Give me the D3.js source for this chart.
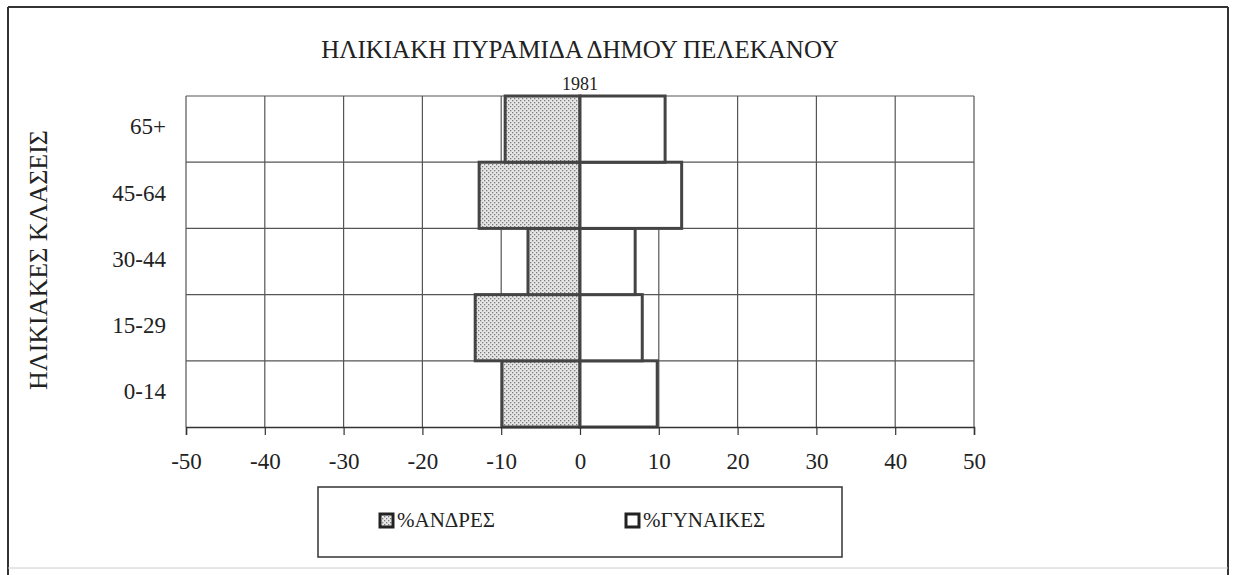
<!DOCTYPE html>
<html>
<head>
<meta charset="utf-8">
<script src="https://cdn.jsdelivr.net/npm/d3@7"></script>
<style>
    body { margin: 0; background: #fff; }
    svg text { font-family: "Liberation Serif", "DejaVu Serif", serif; fill: #222; }
</style>
</head>
<body>
<svg id="chart" width="1236" height="575"></svg>
<script>
// age classes, bottom to top
let ageGroups = ['0-14', '15-29', '30-44', '45-64', '65+']
// men drawn to the left (negative), women to the right
let men = [-9.9, -13.3, -6.6, -12.8, -9.5]
let women = [9.8, 7.9, 7.0, 12.9, 10.8]
let xTicks = [-50, -40, -30, -20, -10, 0, 10, 20, 30, 40, 50]

let svg = d3.select('#chart')

// outer frame
svg.append('line').attr('x1', 8).attr('y1', 7).attr('x2', 1228).attr('y2', 7)
    .attr('stroke', '#333').attr('stroke-width', 2)
svg.append('line').attr('x1', 8).attr('y1', 7).attr('x2', 8).attr('y2', 575)
    .attr('stroke', '#333').attr('stroke-width', 2)
svg.append('line').attr('x1', 1228).attr('y1', 7).attr('x2', 1228).attr('y2', 575)
    .attr('stroke', '#333').attr('stroke-width', 2)
svg.append('line').attr('x1', 8).attr('y1', 568).attr('x2', 1228).attr('y2', 568)
    .attr('stroke', '#ccc').attr('stroke-width', 1)

let defs = svg.append('defs')
let pat = defs.append('pattern')
    .attr('id', 'dots')
    .attr('patternUnits', 'userSpaceOnUse')
    .attr('width', 4).attr('height', 4)
pat.append('rect').attr('width', 4).attr('height', 4).attr('fill', '#e6e6e6')
pat.append('rect').attr('x', 0).attr('y', 0).attr('width', 1.3).attr('height', 1.3).attr('fill', '#7a7a7a')
pat.append('rect').attr('x', 2).attr('y', 2).attr('width', 1.3).attr('height', 1.3).attr('fill', '#7a7a7a')

let x = d3.scaleLinear().domain([-50, 50]).range([186, 974])
let y = d3.scaleBand().domain(ageGroups.slice().reverse()).range([96, 427]).padding(0)

// grid
let g = svg.append('g')
g.selectAll('line.vgrid')
    .data(xTicks)
    .enter()
    .append('line')
    .attr('class', 'vgrid')
    .attr('x1', (d) => x(d)).attr('x2', (d) => x(d))
    .attr('y1', 96).attr('y2', 427)
    .attr('stroke', '#555')
    .attr('stroke-width', 1.2)

g.selectAll('line.hgrid')
    .data(ageGroups)
    .enter()
    .append('line')
    .attr('class', 'hgrid')
    .attr('x1', 186).attr('x2', 974)
    .attr('y1', (d) => y(d)).attr('y2', (d) => y(d))
    .attr('stroke', '#555')
    .attr('stroke-width', 1.2)

// bars
let rows = ageGroups.map((a, i) => ({age: a, men: men[i], women: women[i]}))

g.selectAll('rect.men')
    .data(rows)
    .enter()
    .append('rect')
    .attr('class', 'men')
    .attr('x', (d) => x(d.men))
    .attr('y', (d) => y(d.age))
    .attr('width', (d) => x(0) - x(d.men))
    .attr('height', y.bandwidth())
    .attr('fill', 'url(#dots)')
    .attr('stroke', '#444')
    .attr('stroke-width', 3)

g.selectAll('rect.women')
    .data(rows)
    .enter()
    .append('rect')
    .attr('class', 'women')
    .attr('x', x(0))
    .attr('y', (d) => y(d.age))
    .attr('width', (d) => x(d.women) - x(0))
    .attr('height', y.bandwidth())
    .attr('fill', '#fff')
    .attr('stroke', '#444')
    .attr('stroke-width', 3)

// x axis
let xAxis = d3.axisBottom(x).tickValues(xTicks).tickSize(8).tickPadding(18).tickFormat(d3.format('d'))
let ax = svg.append('g').attr('transform', 'translate(0,427)').call(xAxis)
ax.select('.domain').attr('stroke', '#333').attr('stroke-width', 1.5)
ax.selectAll('.tick line').attr('stroke', '#333').attr('stroke-width', 1.2)
ax.selectAll('.tick text')
    .style('font-size', '23px')
    .style('font-family', '"Liberation Serif", serif')
    .attr('fill', '#222')
    .text((d) => d < 0 ? '-' + Math.abs(d) : d)

// y labels
svg.selectAll('text.ylab')
    .data(ageGroups)
    .enter()
    .append('text')
    .attr('class', 'ylab')
    .attr('x', 166)
    .attr('y', (d) => y(d) + y.bandwidth() / 2)
    .attr('text-anchor', 'end')
    .attr('dominant-baseline', 'middle')
    .style('font-size', '23px')
    .text((d) => d)

svg.append('text')
    .attr('transform', 'translate(47,260) rotate(-90)')
    .attr('text-anchor', 'middle')
    .style('font-size', '26px')
    .text('ΗΛΙΚΙΑΚΕΣ ΚΛΑΣΕΙΣ')

// titles
svg.append('text')
    .attr('x', 580).attr('y', 58)
    .attr('text-anchor', 'middle')
    .style('font-size', '25px')
    .text('ΗΛΙΚΙΑΚΗ ΠΥΡΑΜΙΔΑ ΔΗΜΟΥ ΠΕΛΕΚΑΝΟΥ')

svg.append('text')
    .attr('x', 580).attr('y', 90)
    .attr('text-anchor', 'middle')
    .style('font-size', '18px')
    .text('1981')

// legend
let legend = svg.append('g')
legend.append('rect')
    .attr('x', 318).attr('y', 487)
    .attr('width', 524).attr('height', 70)
    .attr('fill', '#fff')
    .attr('stroke', '#333')
    .attr('stroke-width', 1.5)

let items = [
    {name: '%ΑΝΔΡΕΣ', fill: 'url(#dots)', x: 380},
    {name: '%ΓΥΝΑΙΚΕΣ', fill: '#fff', x: 626},
]
legend.selectAll('rect.key')
    .data(items)
    .enter()
    .append('rect')
    .attr('class', 'key')
    .attr('x', (d) => d.x).attr('y', 514)
    .attr('width', 13).attr('height', 13)
    .attr('fill', (d) => d.fill)
    .attr('stroke', '#222')
    .attr('stroke-width', 3)

legend.selectAll('text.key')
    .data(items)
    .enter()
    .append('text')
    .attr('class', 'key')
    .attr('x', (d) => d.x + 17).attr('y', 522)
    .attr('dominant-baseline', 'middle')
    .style('font-size', '21px')
    .text((d) => d.name)
</script>
</body>
</html>
